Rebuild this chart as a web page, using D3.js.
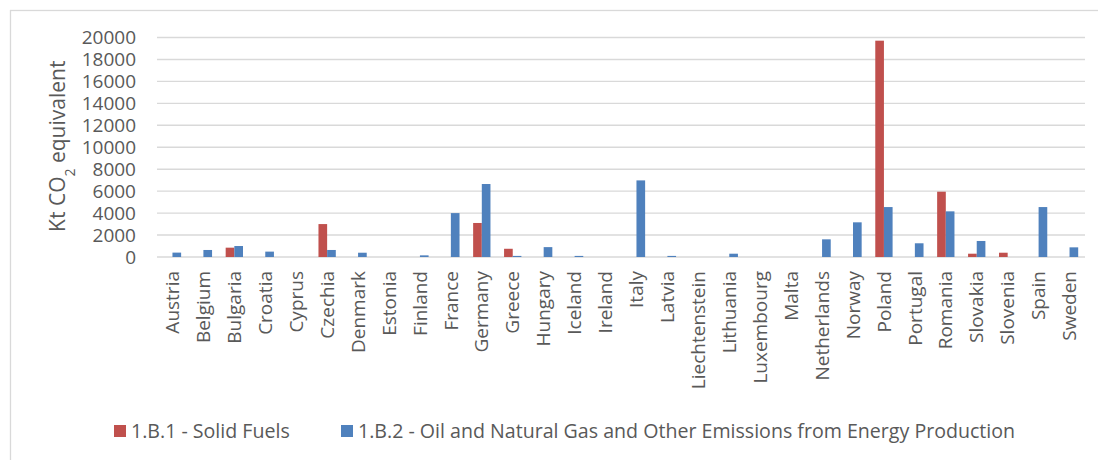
<!DOCTYPE html>
<html>
<head>
<meta charset="utf-8">
<script src="https://cdn.jsdelivr.net/npm/d3@7"></script>
<style>
  body { margin: 0; background: #fff; }
  text { font-family: "Open Sans", sans-serif; fill: #595959; }
</style>
</head>
<body>
<div id="chart"></div>
<script>
// Data
const countries = ["Austria", "Belgium", "Bulgaria", "Croatia", "Cyprus", "Czechia", "Denmark", "Estonia",
  "Finland", "France", "Germany", "Greece", "Hungary", "Iceland", "Ireland", "Italy", "Latvia",
  "Liechtenstein", "Lithuania", "Luxembourg", "Malta", "Netherlands", "Norway", "Poland", "Portugal",
  "Romania", "Slovakia", "Slovenia", "Spain", "Sweden"];
const solidFuels = [0, 0, 850, 0, 0, 3000, 0, 0, 0, 0, 3100, 750, 0, 0, 0, 0, 0,
  0, 0, 0, 0, 0, 0, 19710, 0, 5950, 300, 390, 0, 0];
const oilGas = [400, 640, 1000, 490, 0, 640, 390, 0, 150, 4000, 6650, 100, 900, 100, 0, 6980, 100,
  0, 300, 0, 0, 1610, 3160, 4550, 1250, 4160, 1460, 0, 4550, 880];
const seriesNames = ["1.B.1 - Solid Fuels", "1.B.2 - Oil and Natural Gas and Other Emissions from Energy Production"];
const yTicks = [0, 2000, 4000, 6000, 8000, 10000, 12000, 14000, 16000, 18000, 20000];

const colors = ["#C0504D", "#4F81BD"];
const w = 1098, h = 460;
const plotLeft = 157, plotRight = 1085, plotTop = 37.5, plotBottom = 257;

const svg = d3.select("#chart").append("svg")
  .attr("width", w)
  .attr("height", h);

// chart border (only top and left visible in frame)
svg.append("rect")
  .attr("x", 10.5).attr("y", 10.5)
  .attr("width", 1200).attr("height", 600)
  .attr("fill", "none")
  .attr("stroke", "#D9D9D9")
  .attr("stroke-width", 1.3);

const x = d3.scaleBand()
  .domain(countries)
  .range([plotLeft, plotRight])
  .paddingInner(0.44)
  .paddingOuter(0.22);

const xs = d3.scaleBand()
  .domain([0, 1])
  .range([0, x.bandwidth()]);

const y = d3.scaleLinear()
  .domain([0, 20000])
  .range([plotBottom, plotTop]);

// gridlines
svg.append("g")
  .selectAll("line")
  .data(yTicks)
  .join("line")
  .attr("x1", plotLeft).attr("x2", plotRight)
  .attr("y1", d => y(d)).attr("y2", d => y(d))
  .attr("stroke", "#D9D9D9")
  .attr("stroke-width", 1.4);

// y tick labels
svg.append("g")
  .selectAll("text")
  .data(yTicks)
  .join("text")
  .attr("x", 136)
  .attr("y", d => y(d))
  .attr("dy", "0.35em")
  .attr("text-anchor", "end")
  .style("font-size", "19px")
  .text(d => d);

// y axis title
const yt = svg.append("text")
  .attr("transform", "translate(65," + ((plotTop + plotBottom) / 2 - 1) + ") rotate(-90)")
  .attr("text-anchor", "middle")
  .style("font-size", "21px");
yt.append("tspan").text("Kt CO");
yt.append("tspan").text("2").attr("baseline-shift", "sub").style("font-size", "14px");
yt.append("tspan").text(" equivalent");

// bars
const series = [solidFuels, oilGas];
series.forEach((vals, s) => {
  svg.append("g")
    .attr("fill", colors[s])
    .selectAll("rect")
    .data(countries)
    .join("rect")
    .attr("x", (d, i) => x(d) + xs(s))
    .attr("width", xs.bandwidth())
    .attr("y", (d, i) => y(vals[i]))
    .attr("height", (d, i) => y(0) - y(vals[i]));
});

// x labels
svg.append("g")
  .selectAll("text")
  .data(countries)
  .join("text")
  .attr("transform", d => "translate(" + (x(d) + x.bandwidth() / 2) + ",271) rotate(-90)")
  .attr("dy", "0.35em")
  .attr("text-anchor", "end")
  .style("font-size", "19px")
  .text(d => d);

// legend
const legendX = [114, 341];
seriesNames.forEach((name, s) => {
  svg.append("rect")
    .attr("x", legendX[s]).attr("y", 425)
    .attr("width", 12).attr("height", 12)
    .attr("fill", colors[s]);
  svg.append("text")
    .attr("x", legendX[s] + 17)
    .attr("y", 431)
    .attr("dy", "0.35em")
    .style("font-size", "19.6px")
    .text(name);
});
</script>
</body>
</html>
